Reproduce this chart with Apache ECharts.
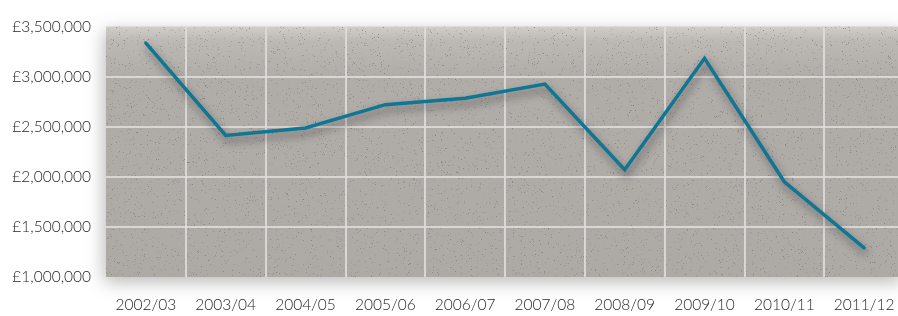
<!DOCTYPE html>
<html>
<head>
<meta charset="utf-8">
<script src="https://cdn.jsdelivr.net/npm/echarts@6/dist/echarts.min.js"></script>
<style>
html,body{margin:0;padding:0;background:#fff;}
#chart{width:898px;height:316px;}
</style>
</head>
<body>
<div id="chart"></div>
<script>
const categories = ['2002/03','2003/04','2004/05','2005/06','2006/07','2007/08','2008/09','2009/10','2010/11','2011/12'];
const values = [3335000, 2413000, 2487000, 2720000, 2785000, 2925000, 2070000, 3183000, 1950000, 1290000];
const yTicks = [1000000, 1500000, 2000000, 2500000, 3000000, 3500000];

// decorative texture for the plot background (deterministic)
function makeTexture(){
  const c = document.createElement('canvas');
  c.width = 920; c.height = 316;
  const ctx = c.getContext('2d');
  const g = ctx.createLinearGradient(0, 26, 0, 277);
  g.addColorStop(0, '#d2cfca');
  g.addColorStop(0.06, '#bcb8b4');
  g.addColorStop(0.2, '#b0aca8');
  g.addColorStop(1, '#adaaa6');
  ctx.fillStyle = g;
  ctx.fillRect(0, 0, 920, 316);
  let s = 12345;
  function rnd(){ s = (s * 1103515245 + 12345) & 0x7fffffff; return s / 0x7fffffff; }
  for (let i = 0; i < 16000; i++){
    const x = Math.floor(rnd()*920), y = Math.floor(rnd()*316);
    const a = 0.15 + rnd()*0.25;
    ctx.fillStyle = 'rgba(115,111,107,' + a.toFixed(2) + ')';
    ctx.fillRect(x, y, 1, 1);
  }
  return c;
}

const chart = echarts.init(document.getElementById('chart'), null, {renderer:'canvas'});
const fmt = v => '£' + Number(v).toLocaleString('en-GB');
chart.setOption({
  animation: false,
  backgroundColor: '#ffffff',
  grid: {
    left: 106, top: 26.5, right: -6, bottom: 39,
    outerBoundsMode: 'none',
    containLabel: false,
    show: true,
    borderWidth: 0,
    backgroundColor: {image: makeTexture(), repeat: 'no-repeat'},
    shadowBlur: 18,
    shadowColor: 'rgba(0,0,0,0.28)',
    shadowOffsetX: -2,
    shadowOffsetY: 5
  },
  xAxis: {
    type: 'category',
    data: categories,
    boundaryGap: true,
    axisLine: {show: false},
    axisTick: {show: false},
    axisLabel: {color: '#262626', fontFamily: 'Lato', fontWeight: 300, fontSize: 15.5, margin: 20, interval: 0, hideOverlap: false},
    splitLine: {
      show: true,
      interval: 0,
      showMinLine: false,
      lineStyle: {color: 'rgba(222,220,218,0.9)', width: 2}
    }
  },
  yAxis: {
    type: 'value',
    min: yTicks[0],
    max: yTicks[yTicks.length-1],
    interval: yTicks[1] - yTicks[0],
    axisLine: {show: false},
    axisTick: {show: false},
    axisLabel: {
      color: '#262626', fontFamily: 'Lato', fontWeight: 300, fontSize: 15.5, margin: 15,
      formatter: fmt, padding: [0,0,12,0]
    },
    splitLine: {
      show: true,
      showMinLine: false,
      showMaxLine: false,
      lineStyle: {color: 'rgba(222,220,218,0.9)', width: 2}
    }
  },
  series: [{
    type: 'line',
    data: values,
    symbol: 'none',
    lineStyle: {
      color: '#0f7694', width: 3.5, cap: 'round', join: 'miter',
      shadowBlur: 8, shadowColor: 'rgba(0,0,0,0.45)', shadowOffsetY: 5, shadowOffsetX: 2
    }
  }]
});
</script>
</body>
</html>
